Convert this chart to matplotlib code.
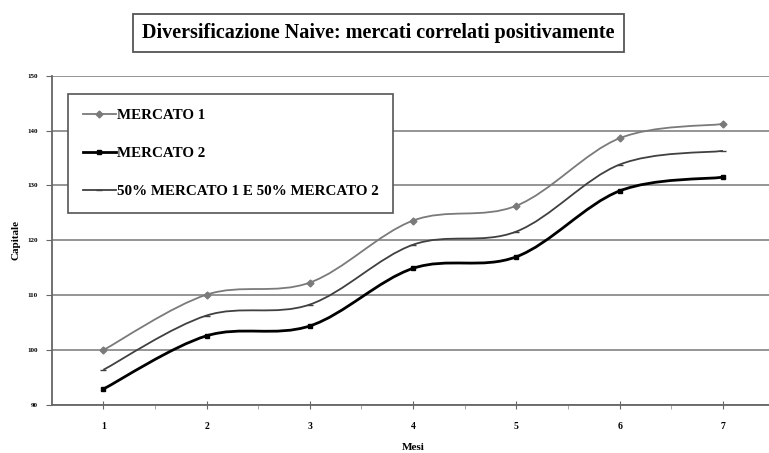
import numpy as np
import matplotlib.pyplot as plt
from matplotlib.path import Path
from matplotlib.patches import PathPatch
from matplotlib.lines import Line2D

plt.rcParams['font.family'] = ['Liberation Serif', 'DejaVu Serif']
plt.rcParams['font.weight'] = 'bold'

mesi = [1, 2, 3, 4, 5, 6, 7]
mercato1 = [100.0, 110.1, 112.3, 123.6, 126.3, 138.6, 141.2]
mercato2 = [92.9, 102.6, 104.4, 114.9, 117.0, 129.0, 131.5]
misto = [96.4, 106.3, 108.3, 119.2, 121.6, 133.8, 136.3]

labels = ['MERCATO 1', 'MERCATO 2', '50% MERCATO 1 E 50% MERCATO 2']
colori = ['#7a7a7a', '#000000', '#404040']
spessori = [1.3, 2.0, 1.3]
marker = ['D', 's', '_']
msize = [3.5, 2.5, 4]
yticks = [90, 100, 110, 120, 130, 140, 150]


def curva_smussata(x, y):
    # bezier stile Excel (smoothed line)
    p = np.column_stack([x, y]).astype(float)
    n = len(p)
    verts = [p[0]]
    codes = [Path.MOVETO]
    for i in range(n - 1):
        p_prev = p[i - 1] if i > 0 else p[i]
        p_next = p[i + 2] if i + 2 < n else p[i + 1]
        c1 = p[i] + (p[i + 1] - p_prev) / 6
        c2 = p[i + 1] - (p_next - p[i]) / 6
        verts += [c1, c2, p[i + 1]]
        codes += [Path.CURVE4] * 3
    return Path(verts, codes)


fig = plt.figure(figsize=(7.69, 4.53), dpi=100)
ax = fig.add_axes([0.0672, 0.106, 0.940, 0.727])

for serie, col, lw, mk, ms in zip([mercato1, mercato2, misto], colori, spessori, marker, msize):
    ax.add_patch(PathPatch(curva_smussata(mesi, serie), facecolor='none',
                           edgecolor=col, lw=lw, zorder=3))
    ax.plot(mesi, serie, linestyle='none', marker=mk, ms=ms, color=col, zorder=4)

ax.set_xlim(0.5, 7.5)
ax.set_ylim(90, 150)
ax.set_yticks(yticks)
ax.set_xticks(mesi)
ax.set_xticks(np.arange(1.5, 7.5, 1), minor=True)
ax.grid(axis='y', color='#8c8c8c', lw=1.3)
ax.set_axisbelow(True)
for s in ['top', 'right']:
    ax.spines[s].set_visible(False)
for s in ['left', 'bottom']:
    ax.spines[s].set_color('#666666')
    ax.spines[s].set_linewidth(1.3)
ax.tick_params(axis='y', labelsize=5, length=4, color='#666666', pad=6)
ax.tick_params(axis='x', which='major', labelsize=7, direction='inout', length=6,
               color='#666666', pad=9)
ax.tick_params(axis='x', which='minor', direction='out', length=3, color='#999999')

ax.set_xlabel('Mesi', fontsize=8, fontweight='bold', labelpad=9)
ax.set_ylabel('Capitale', fontsize=8, fontweight='bold', labelpad=5)

handles = [Line2D([0], [0], color=c, lw=lw, marker=mk, ms=ms)
           for c, lw, mk, ms in zip(colori, spessori, marker, msize)]
leg = ax.legend(handles, labels, loc='upper left', bbox_to_anchor=(0.023, 0.944),
                borderaxespad=0, fancybox=False, framealpha=1, edgecolor='#555555',
                handlelength=2.2, handletextpad=0.1, labelspacing=1.65,
                borderpad=0.95, prop={'weight': 'bold', 'size': 10.8})
leg.get_frame().set_linewidth(1.2)

fig.text(0.492, 0.927, 'Diversificazione Naive: mercati correlati positivamente',
         ha='center', va='center', fontsize=14.5, fontweight='bold',
         bbox=dict(boxstyle='square,pad=0.45', facecolor='white', edgecolor='#555555', lw=1.3))

fig.savefig('out.png', dpi=100)
